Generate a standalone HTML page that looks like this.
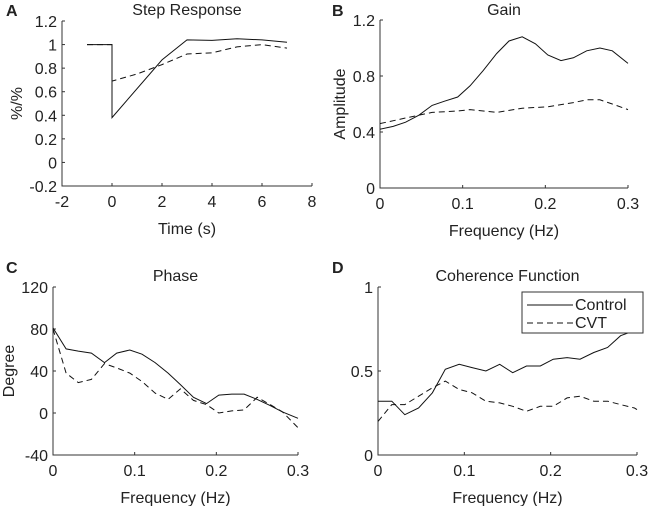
<!DOCTYPE html>
<html><head><meta charset="utf-8"><style>
body{margin:0;background:#fff;}
svg{display:block;font-family:"Liberation Sans",Arial,sans-serif;}
text{fill:#222;}
</style></head><body>
<svg id="fig" width="649" height="506" viewBox="0 0 649 506"></svg>
<script>
// Panel A: Step Response
const aCtrlT=[-1,0,0,2,3,4,5,6,7];
const aCtrlV=[1,1,0.38,0.87,1.04,1.035,1.05,1.04,1.02];
const aCvtT=[-1,0,0,1,2,3,4,5,6,7];
const aCvtV=[1,1,0.69,0.75,0.83,0.92,0.93,0.98,1.0,0.97];
const aXTicks=[-2,0,2,4,6,8];
const aYTicks=[-0.2,0,0.2,0.4,0.6,0.8,1,1.2];
// Panel B: Gain
const bCtrlF=[0,0.016,0.031,0.047,0.063,0.078,0.094,0.109,0.125,0.141,0.156,0.172,0.188,0.203,0.219,0.234,0.25,0.266,0.281,0.3];
const bCtrlV=[0.42,0.44,0.47,0.52,0.59,0.62,0.65,0.73,0.84,0.96,1.05,1.08,1.03,0.95,0.91,0.93,0.98,1.0,0.98,0.89];
const bCvtF=[0,0.031,0.063,0.094,0.109,0.141,0.172,0.203,0.234,0.25,0.266,0.281,0.3];
const bCvtV=[0.46,0.5,0.54,0.55,0.56,0.54,0.57,0.58,0.61,0.63,0.63,0.6,0.56];
const bXTicks=[0,0.1,0.2,0.3];
const bYTicks=[0,0.4,0.8,1.2];
// Panel C: Phase
const cF=[0,0.016,0.031,0.047,0.063,0.078,0.094,0.109,0.125,0.141,0.156,0.172,0.188,0.203,0.219,0.234,0.25,0.266,0.281,0.3];
const cCtrlV=[81,61,59,57,48,57,60,56,48,38,27,15,9,17,18,18,13,7,1,-5];
const cCvtV=[80,38,29,32,47,43,38,30,19,13,23,12,8,0,2,3,15,8,1,-14];
const cXTicks=[0,0.1,0.2,0.3];
const cYTicks=[-40,0,40,80,120];
// Panel D: Coherence
const dF=[0,0.016,0.031,0.047,0.063,0.078,0.094,0.109,0.125,0.141,0.156,0.172,0.188,0.203,0.219,0.234,0.25,0.266,0.281,0.297,0.3];
const dCtrlV=[0.32,0.32,0.24,0.28,0.37,0.51,0.54,0.52,0.5,0.54,0.49,0.53,0.53,0.57,0.58,0.57,0.61,0.64,0.71,0.74,0.73];
const dCvtV=[0.2,0.3,0.3,0.35,0.4,0.44,0.39,0.37,0.32,0.31,0.29,0.26,0.29,0.29,0.34,0.35,0.32,0.32,0.3,0.28,0.27];
const dXTicks=[0,0.1,0.2,0.3];
const dYTicks=[0,0.5,1];

const NS='http://www.w3.org/2000/svg';
const svg=document.getElementById('fig');
function mk(tag,attrs,parent){const e=document.createElementNS(NS,tag);for(const k in attrs)e.setAttribute(k,attrs[k]);(parent||svg).appendChild(e);return e;}
function txt(s,x,y,size,anchor,parent,extra){const t=mk('text',Object.assign({x:x,y:y,'font-size':size,'text-anchor':anchor},extra||{}),parent);t.textContent=s;return t;}

function panel(o){
  const g=mk('g',{});
  
  
  const sx=v=>o.x0+(v-o.xmin)/(o.xmax-o.xmin)*(o.x1-o.x0);
  const sy=v=>o.y1-(v-o.ymin)/(o.ymax-o.ymin)*(o.y1-o.y0);
  const ax=mk('path',{d:`M${o.x0},${o.y0}V${o.y1}H${o.x1}`,fill:'none',stroke:'#333','stroke-width':1},g);
  
  
  o.xt.forEach(v=>{const x=sx(v);mk('line',{x1:x,y1:o.y1,x2:x,y2:o.y1-3,stroke:'#333'},g);
    const t=txt(String(v),x,o.y1+21,16,'middle',g);
    
    });
  o.yt.forEach(v=>{const y=sy(v);mk('line',{x1:o.x0,y1:y,x2:o.x0+3,y2:y,stroke:'#333'},g);
    const t=txt(String(v),o.x0-5,y+6,16,'end',g);
    
    });
  o.series.forEach(s=>{
    const d=s.x.map((v,i)=>(i?'L':'M')+sx(v).toFixed(1)+','+sy(s.y[i]).toFixed(1)).join('');
    const p=mk('path',{d:d,fill:'none',stroke:'#111','stroke-width':1,'stroke-dasharray':s.dash?'6,4':'none'},g);
    
    
  });
  const tt=txt(o.title,(o.x0+o.x1)/2,o.ty,16,'middle',g);
  
  
  const lt=txt(o.letter,o.lx,o.ly,16,'start',g,{'font-weight':'bold'});
  
  
  const xl=txt(o.xlabel,(o.x0+o.x1)/2,o.y1+48,16,'middle',g);
  
  
  if(o.ylabel){const yl=txt(o.ylabel,o.ylx,(o.y0+o.y1)/2,16,'middle',g,{transform:`rotate(-90 ${o.ylx} ${(o.y0+o.y1)/2})`});
    
    }
}
panel({name:'step-response-panel',x0:62,x1:312,y0:21,y1:186,xmin:-2,xmax:8,ymin:-0.2,ymax:1.2,xt:aXTicks,yt:aYTicks,
  series:[{x:aCtrlT,y:aCtrlV,nm:'control-line'},{x:aCvtT,y:aCvtV,dash:1,nm:'cvt-line'}],
  title:'Step Response',ty:15,letter:'A',lx:6,ly:16,xlabel:'Time (s)',ylabel:'%/%',ylx:22});
panel({name:'gain-panel',x0:380,x1:628,y0:20,y1:188,xmin:0,xmax:0.3,ymin:0,ymax:1.2,xt:bXTicks,yt:bYTicks,
  series:[{x:bCtrlF,y:bCtrlV,nm:'control-line'},{x:bCvtF,y:bCvtV,dash:1,nm:'cvt-line'}],
  title:'Gain',ty:15,letter:'B',lx:332,ly:16,xlabel:'Frequency (Hz)',ylabel:'Amplitude',ylx:345});
panel({name:'phase-panel',x0:53,x1:298,y0:287,y1:455,xmin:0,xmax:0.3,ymin:-40,ymax:120,xt:cXTicks,yt:cYTicks,
  series:[{x:cF,y:cCtrlV,nm:'control-line'},{x:cF,y:cCvtV,dash:1,nm:'cvt-line'}],
  title:'Phase',ty:281,letter:'C',lx:6,ly:273,xlabel:'Frequency (Hz)',ylabel:'Degree',ylx:14});
panel({name:'coherence-panel',x0:378,x1:637,y0:287,y1:455,xmin:0,xmax:0.3,ymin:0,ymax:1,xt:dXTicks,yt:dYTicks,
  series:[{x:dF,y:dCtrlV,nm:'control-line'},{x:dF,y:dCvtV,dash:1,nm:'cvt-line'}],
  title:'Coherence Function',ty:281,letter:'D',lx:332,ly:273,xlabel:'Frequency (Hz)',ylabel:null});
</script>
<svg style="position:absolute;left:0;top:0" width="649" height="506">
<g font-family="Liberation Sans, Arial, sans-serif">
<rect x="522" y="292" width="121" height="41" fill="#fff" stroke="#333" stroke-width="1"/>
<line x1="527" y1="305" x2="573" y2="305" stroke="#111"/>
<text x="575" y="310" font-size="16" fill="#222">Control</text>
<line x1="527" y1="323" x2="573" y2="323" stroke="#111" stroke-dasharray="6,4"/>
<text x="575" y="328" font-size="16" fill="#222">CVT</text>
</g></svg>
</body></html>
